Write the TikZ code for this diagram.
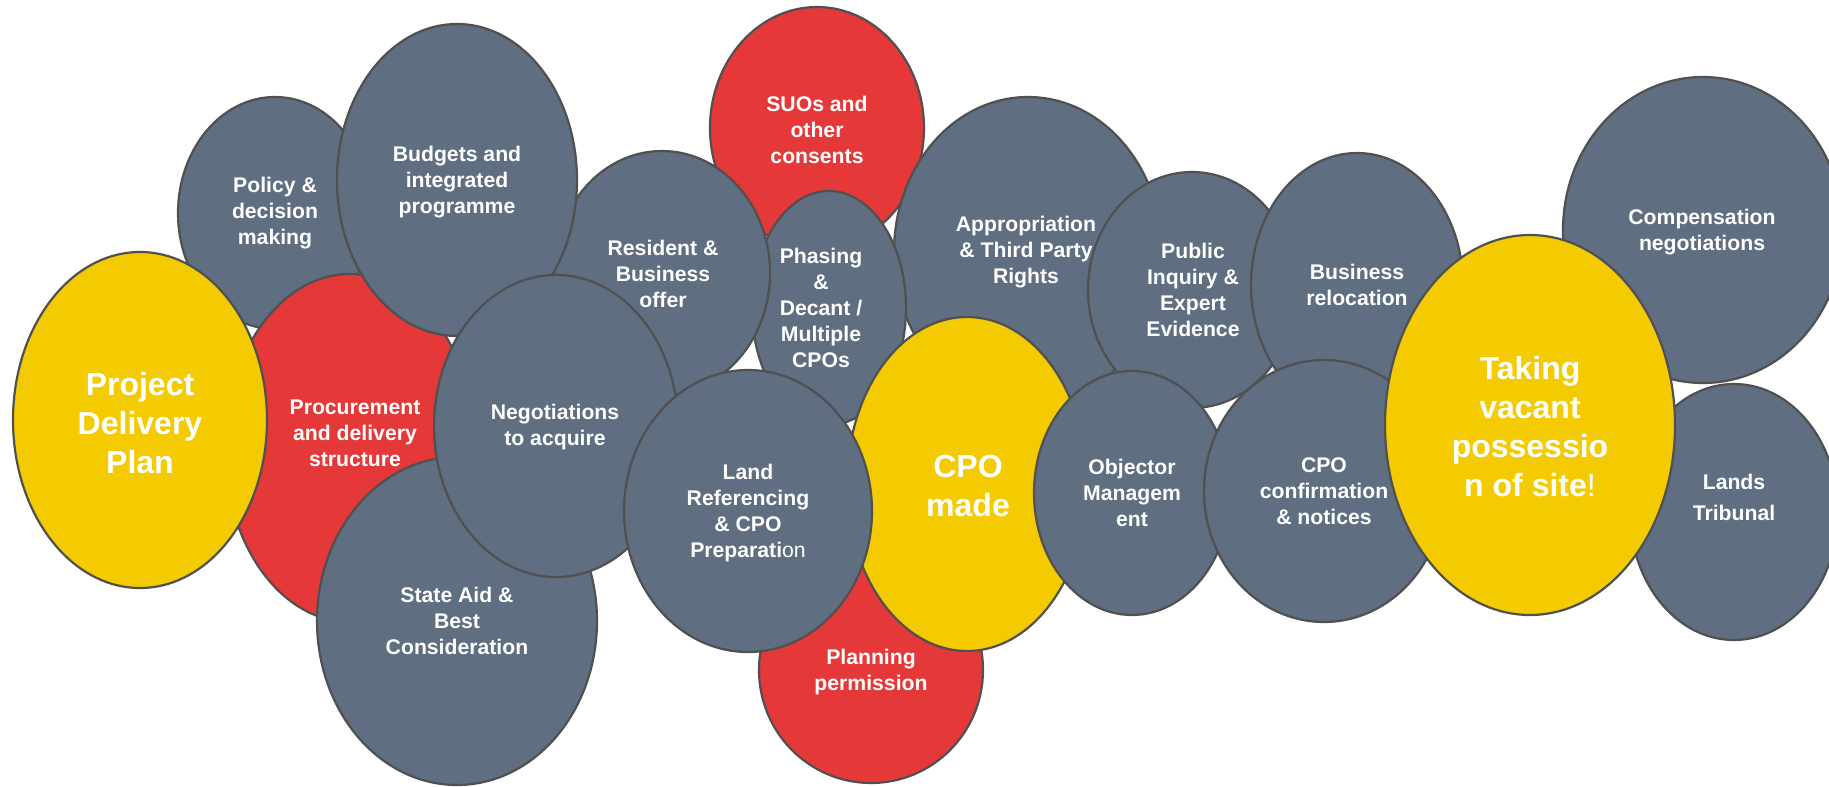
\documentclass[tikz,border=0pt]{standalone}
\usepackage{fontspec}
\setmainfont{Liberation Sans}
\usepackage{tikz}
\definecolor{slate}{HTML}{5F6E80}
\definecolor{brick}{HTML}{E53838}
\definecolor{gold}{HTML}{F4CA00}
\definecolor{rim}{HTML}{505050}
\tikzset{
  blob/.style={line width=2.2pt, draw=rim},
  slateblob/.style={blob, fill=slate},
  redblob/.style={blob, fill=brick},
  goldblob/.style={blob, fill=gold},
  lab/.style={text=white, font=\fontsize{21.2}{26}\selectfont\bfseries, align=center, inner sep=0pt},
  biglab/.style={text=white, font=\fontsize{32}{39}\selectfont\bfseries, align=center, inner sep=0pt},
}

\begin{document}
\begin{tikzpicture}[x=1pt, y=-1pt]
  \useasboundingbox (0,0) rectangle (1829,787);
  \clip (0,0) rectangle (1829,787);

  % bubbles, back to front
  \draw[redblob]   (817,128)  ellipse [x radius=107, y radius=121]; % SUOs
  \draw[slateblob] (1028,252) ellipse [x radius=134, y radius=155]; % appropriation
  \draw[slateblob] (829,308)  ellipse [x radius=77,  y radius=117]; % phasing
  \draw[slateblob] (662,273)  ellipse [x radius=108, y radius=122]; % resident offer
  \draw[slateblob] (275,213)  ellipse [x radius=97,  y radius=116]; % policy
  \draw[redblob]   (350,448)  ellipse [x radius=125, y radius=174]; % procurement
  \draw[goldblob]  (140,420)  ellipse [x radius=127, y radius=168]; % delivery plan
  \draw[slateblob] (457,180)  ellipse [x radius=120, y radius=156]; % budgets
  \draw[slateblob] (457,621)  ellipse [x radius=140, y radius=164]; % state aid
  \draw[slateblob] (556,426)  ellipse [x radius=122, y radius=151]; % negotiations
  \draw[redblob]   (871,670)  ellipse [x radius=112, y radius=113]; % planning
  \draw[goldblob]  (967,484)  ellipse [x radius=120, y radius=167]; % CPO made
  \draw[slateblob] (748,511)  ellipse [x radius=124, y radius=141]; % land referencing
  \draw[slateblob] (1192,290) ellipse [x radius=104, y radius=118]; % public inquiry
  \draw[slateblob] (1357,285) ellipse [x radius=106, y radius=132]; % business
  \draw[slateblob] (1132,493) ellipse [x radius=98,  y radius=122]; % objector
  \draw[slateblob] (1324,491) ellipse [x radius=120, y radius=131]; % confirmation
  \draw[slateblob] (1703,230) ellipse [x radius=140, y radius=153]; % compensation
  \draw[slateblob] (1734,512) ellipse [x radius=104, y radius=128]; % tribunal
  \draw[goldblob]  (1530,425) ellipse [x radius=145, y radius=190]; % vacant possession

  % labels
  \node[biglab] (plan) at (140,423) {Project\\Delivery\\Plan};
  \node[lab] (policy) at (275,213) {Policy \&\\decision\\making};
  \node[lab] (budgets) at (457,182) {Budgets and\\integrated\\programme};
  \node[lab] (suos) at (817,130) {SUOs and\\other\\consents};
  \node[lab] (resident) at (663,274) {Resident \&\\Business\\offer};
  \node[lab] (phasing) at (821,308) {Phasing\\\&\\Decant /\\Multiple\\CPOs};
  \node[lab] (approp) at (1026,252) {Appropriation\\\& Third Party\\Rights};
  \node[lab] (inquiry) at (1193,290) {Public\\Inquiry \&\\Expert\\Evidence};
  \node[lab] (business) at (1357,285) {Business\\relocation};
  \node[lab] (compensation) at (1702,232) {Compensation\\negotiations};
  \node[biglab] (possession) at (1530,427) {Taking\\vacant\\possessio\\n of site{\mdseries !}};
  \node[lab, font=\fontsize{21.2}{31}\selectfont\bfseries] (tribunal) at (1734,497) {Lands\\Tribunal};
  \node[lab] (procurement) at (355,433) {Procurement\\and delivery\\structure};
  \node[lab] (negotiations) at (555,427) {Negotiations\\to acquire};
  \node[lab] (stateaid) at (457,621) {State Aid \&\\Best\\Consideration};
  \node[lab] (landref) at (748,513) {Land\\Referencing\\\& CPO\\Preparati{\mdseries on}};
  \node[lab] (planning) at (871,672) {Planning\\permission};
  \node[biglab] (cpomade) at (968,486) {CPO\\made};
  \node[lab] (objector) at (1132,493) {Objector\\Managem\\ent};
  \node[lab] (confirm) at (1324,491) {CPO\\confirmation\\\& notices};
\end{tikzpicture}
\end{document}
